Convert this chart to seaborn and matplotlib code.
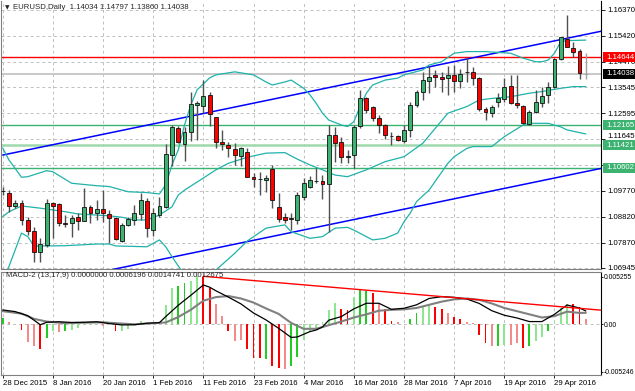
import numpy as np
import pandas as pd
import matplotlib
matplotlib.use("Agg")
import matplotlib.pyplot as plt
import matplotlib.transforms as mtransforms
from matplotlib.patches import Rectangle
import seaborn as sns

sns.set_style("white")
plt.rcParams["font.family"] = ["Liberation Sans", "DejaVu Sans"]

W, H = 635, 391

# --- data: EURUSD daily bars, 28 Dec 2015 .. 6 May 2016 (no bar on 1 Jan) ---
dates = pd.bdate_range("2015-12-28", "2016-05-06").drop(pd.Timestamp("2016-01-01"))

opens = [1.0977, 1.0970, 1.0921, 1.0933, 1.0870, 1.0831, 1.0752, 1.0778, 1.0933, 1.0928,
         1.0858, 1.0858, 1.0882, 1.0866, 1.0916, 1.0894, 1.0909, 1.0892, 1.0878, 1.0794,
         1.0852, 1.0870, 1.0892, 1.0940, 1.0833, 1.0888, 1.0918, 1.1107, 1.1207, 1.1148,
         1.1192, 1.1290, 1.1286, 1.1327, 1.1247, 1.1156, 1.1144, 1.1129, 1.1104, 1.1119,
         1.1028, 1.1019, 1.1016, 1.1055, 1.0918, 1.0882, 1.0876, 1.0870, 1.0955, 1.0992,
         1.1012, 1.1012, 1.1001, 1.1180, 1.1156, 1.1101, 1.1107, 1.1213, 1.1314, 1.1282,
         1.1241, 1.1217, 1.1178, 1.1177, 1.1160, 1.1199, 1.1290, 1.1339, 1.1379, 1.1400,
         1.1393, 1.1388, 1.1400, 1.1379, 1.1411, 1.1409, 1.1388, 1.1275, 1.1262, 1.1300,
         1.1311, 1.1359, 1.1298, 1.1286, 1.1221, 1.1266, 1.1298, 1.1327, 1.1355, 1.1457,
         1.1530, 1.1497, 1.1488, 1.14034]
highs = [1.0990, 1.0979, 1.0943, 1.0943, 1.0882, 1.0845, 1.0803, 1.0946, 1.0937, 1.0933,
         1.0888, 1.0888, 1.0894, 1.0988, 1.0925, 1.0943, 1.0979, 1.0906, 1.0882, 1.0858,
         1.0882, 1.0925, 1.0967, 1.0949, 1.0913, 1.0955, 1.1148, 1.1217, 1.1213, 1.1211,
         1.1339, 1.1306, 1.1381, 1.1339, 1.1247, 1.1199, 1.1156, 1.1150, 1.1138, 1.1132,
         1.1040, 1.1046, 1.1034, 1.1071, 1.0967, 1.0894, 1.0894, 1.0973, 1.1022, 1.1031,
         1.1059, 1.1034, 1.1217, 1.1211, 1.1172, 1.1126, 1.1217, 1.1345, 1.1320, 1.1286,
         1.1253, 1.1221, 1.1192, 1.1180, 1.1217, 1.1302, 1.1345, 1.1412, 1.1432, 1.1418,
         1.1412, 1.1432, 1.1436, 1.1420, 1.1466, 1.1430, 1.1393, 1.1284, 1.1290, 1.1333,
         1.1388, 1.1400, 1.1400, 1.1290, 1.1272, 1.1345, 1.1357, 1.1375, 1.1461, 1.1539,
         1.1619, 1.1521, 1.1493, 1.14797]
lows = [1.0961, 1.0900, 1.0914, 1.0852, 1.0815, 1.0715, 1.0715, 1.0772, 1.0803, 1.0848,
        1.0845, 1.0809, 1.0833, 1.0866, 1.0858, 1.0870, 1.0864, 1.0785, 1.0797, 1.0791,
        1.0848, 1.0852, 1.0870, 1.0809, 1.0811, 1.0882, 1.0913, 1.1067, 1.1150, 1.1087,
        1.1160, 1.1162, 1.1261, 1.1213, 1.1132, 1.1126, 1.1101, 1.1071, 1.1067, 1.1028,
        1.0992, 1.0961, 1.0973, 1.0913, 1.0864, 1.0858, 1.0833, 1.0855, 1.0943, 1.0986,
        1.1004, 1.0946, 1.0827, 1.1083, 1.1077, 1.1077, 1.1059, 1.1205, 1.1260, 1.1233,
        1.1187, 1.1165, 1.1144, 1.1160, 1.1152, 1.1172, 1.1284, 1.1308, 1.1333, 1.1357,
        1.1339, 1.1327, 1.1339, 1.1351, 1.1375, 1.1363, 1.1269, 1.1235, 1.1247, 1.1284,
        1.1302, 1.1294, 1.1278, 1.1221, 1.1217, 1.1262, 1.1284, 1.1296, 1.1351, 1.1454,
        1.1501, 1.1466, 1.1384, 1.13860]
closes = [1.0976, 1.0921, 1.0933, 1.0870, 1.0831, 1.0752, 1.0781, 1.0931, 1.0921, 1.0858,
          1.0857, 1.0876, 1.0866, 1.0918, 1.0897, 1.0909, 1.0894, 1.0876, 1.0799, 1.0852,
          1.0872, 1.0894, 1.0943, 1.0839, 1.0894, 1.0921, 1.1111, 1.1211, 1.1154, 1.1192,
          1.1294, 1.1298, 1.1323, 1.1256, 1.1156, 1.1148, 1.1132, 1.1107, 1.1132, 1.1028,
          1.1019, 1.1018, 1.1022, 1.0943, 1.0872, 1.0870, 1.0875, 1.0961, 1.1004, 1.1016,
          1.1013, 1.1001, 1.1180, 1.1152, 1.1101, 1.1105, 1.1211, 1.1314, 1.1272, 1.1241,
          1.1217, 1.1180, 1.1177, 1.1162, 1.1199, 1.1290, 1.1339, 1.1381, 1.1393, 1.1391,
          1.1384, 1.1400, 1.1379, 1.1403, 1.1410, 1.1388, 1.1274, 1.1266, 1.1284, 1.1314,
          1.1357, 1.1298, 1.1290, 1.1223, 1.1266, 1.1302, 1.1323, 1.1355, 1.1457, 1.1537,
          1.1503, 1.1485, 1.1406, 1.14038]

# Bollinger bands (read at selected bars)
bb_up_idx = [0, 1, 3, 4, 7, 8, 11, 15, 17, 20, 23, 25, 26, 27, 28, 29, 30, 31, 33, 34,
             37, 40, 42, 43, 45, 46, 48, 49, 50, 51, 52, 54, 55, 56, 57, 58, 59, 61, 63, 64,
             66, 67, 68, 70, 72, 74, 77, 81, 83, 85, 86, 87, 88, 89, 90, 93]
bb_up = [1.1133, 1.1089, 1.1026, 1.1028, 1.1050, 1.1046, 1.1004, 1.0995, 1.0992, 1.0973,
         1.0970, 1.0965, 1.0998, 1.1071, 1.1126, 1.1217, 1.1290, 1.1345, 1.1389, 1.1400,
         1.1411, 1.1400, 1.1374, 1.1363, 1.1374, 1.1381, 1.1351, 1.1327, 1.1296, 1.1260,
         1.1235, 1.1217, 1.1211, 1.1229, 1.1284, 1.1333, 1.1363, 1.1381, 1.1388, 1.1400,
         1.1412, 1.1418, 1.1436, 1.1448, 1.1479, 1.1485, 1.1485, 1.1479, 1.1461, 1.1448,
         1.1448, 1.1454, 1.1479, 1.1521, 1.1525, 1.1527]
bb_mid_idx = [0, 1, 3, 6, 10, 12, 17, 19, 21, 23, 25, 27, 28, 29, 32, 34, 36, 39, 42, 45,
              47, 49, 51, 53, 55, 58, 61, 64, 67, 69, 71, 74, 76, 78, 81, 84, 86, 89, 91, 93]
bb_mid = [1.0882, 1.0900, 1.0921, 1.0913, 1.0900, 1.0892, 1.0885, 1.0880, 1.0870, 1.0870,
          1.0888, 1.0918, 1.0961, 1.0979, 1.1023, 1.1053, 1.1077, 1.1099, 1.1114, 1.1116,
          1.1092, 1.1071, 1.1053, 1.1034, 1.1028, 1.1053, 1.1083, 1.1101, 1.1150, 1.1205,
          1.1260, 1.1284, 1.1308, 1.1314, 1.1320, 1.1333, 1.1339, 1.1351, 1.1357, 1.1357]
bb_lo_idx = [0, 1, 3, 4, 5, 7, 10, 15, 17, 18, 23, 25, 26, 27, 28, 29, 30, 31, 32, 33,
             34, 37, 39, 42, 45, 46, 49, 51, 53, 55, 56, 59, 61, 63, 64, 65, 66, 68, 71, 72,
             74, 75, 78, 80, 83, 84, 87, 89, 90, 93]
bb_lo = [1.0655, 1.0700, 1.0822, 1.0809, 1.0775, 1.0775, 1.0776, 1.0782, 1.0782, 1.0775,
         1.0772, 1.0797, 1.0772, 1.0736, 1.0702, 1.0669, 1.0643, 1.0632, 1.0640, 1.0658,
         1.0687, 1.0748, 1.0793, 1.0840, 1.0852, 1.0827, 1.0803, 1.0809, 1.0840, 1.0843,
         1.0833, 1.0797, 1.0803, 1.0822, 1.0863, 1.0895, 1.0937, 1.0979, 1.1077, 1.1101,
         1.1131, 1.1138, 1.1138, 1.1174, 1.1217, 1.1223, 1.1223, 1.1210, 1.1199, 1.1184]

# channel trend lines (bar index, price) and horizontal levels
chan_x = [0, 96]
chan_upper = [1.1107, 1.1562]
chan_lower = [1.0606, 1.1061]
level_red = 1.14644
level_last = 1.14038
levels_green = [1.12165, 1.11421, 1.10602]
price_ticks = [1.16370, 1.15420, 1.14470, 1.13545, 1.12595, 1.11645, 1.10720,
               1.09770, 1.08820, 1.07870, 1.06945]
price_ticklabels = ["1.16370", "1.15420", "1.14470", "1.13545", "1.12595", "1.11645", "",
                    "1.09770", "1.08820", "1.07870", "1.06945"]

# MACD-2 (13,17,9)
hist = [0.00066, 0.00022, 0.00005, -0.00063, -0.00191, -0.00240, -0.00276, -0.00155, -0.00077, -0.00085,
        -0.00070, -0.00063, -0.00044, -0.00011, -0.00005, 0.00005, -0.00017, -0.00002, -0.00074, -0.00070,
        -0.00048, -0.00010, 0.00037, 0.00004, 0.00002, 0.00004, 0.00213, 0.00397, 0.00420, 0.00453,
        0.00475, 0.00530, 0.00520, 0.00397, 0.00220, 0.00088, -0.00077, -0.00188, -0.00170, -0.00276,
        -0.00375, -0.00370, -0.00380, -0.00464, -0.00486, -0.00497, -0.00464, -0.00364, -0.00177, -0.00090,
        -0.00045, 0.00030, 0.00158, 0.00232, 0.00166, 0.00158, 0.00298, 0.00386, 0.00372, 0.00342,
        0.00239, 0.00166, 0.00040, 0.00030, 0.00005, 0.00055, 0.00121, 0.00188, 0.00215, 0.00190,
        0.00170, 0.00120, 0.00080, 0.00060, 0.00030, 0.00010, -0.00118, -0.00210, -0.00240, -0.00236,
        -0.00228, -0.00228, -0.00210, -0.00258, -0.00240, -0.00184, -0.00136, -0.00070, 0.00048, 0.00177,
        0.00221, 0.00221, 0.00195, 0.00062]
hist_kind = ["g", "lr", "lr", "r", "lr", "lr", "r", "g", "lg", "lr",
             "g", "lg", "lg", "lg", "lg", "lg", "lr", "lr", "r", "lg",
             "lg", "lg", "lg", "lr", "lg", "lg", "lg", "lg", "g", "g",
             "lg", "lg", "r", "r", "lr", "lr", "r", "lr", "lr", "r",
             "r", "r", "g", "r", "r", "lr", "g", "g", "lg", "lg",
             "lg", "lg", "lg", "lg", "r", "r", "lg", "g", "g", "r",
             "lr", "r", "r", "lr", "lr", "g", "g", "lg", "lg", "r",
             "r", "lr", "r", "r", "lr", "lr", "r", "r", "lr", "g",
             "lg", "lr", "lr", "r", "g", "lg", "lg", "g", "lg", "lg",
             "lg", "r", "r", "lr"]
macd_idx = [0, 2, 4, 6, 7, 9, 11, 13, 15, 17, 19, 21, 23, 25, 26, 28, 30, 32, 33, 34,
            36, 38, 40, 42, 44, 46, 47, 48, 49, 50, 51, 52, 54, 56, 58, 60, 62, 64, 66, 68,
            70, 72, 74, 76, 78, 80, 82, 84, 86, 88, 90, 92, 93]
macd = [0.00158, 0.00140, 0.00095, -0.00005, 0.00022, 0.00028, 0.00020, 0.00022, 0.00028, 0.00008,
        -0.00007, -0.00005, 0.00012, 0.00018, 0.00085, 0.00210, 0.00320, 0.00434, 0.00410, 0.00370,
        0.00300, 0.00225, 0.00125, 0.00048, -0.00044, -0.00145, -0.00140, -0.00110, -0.00081, -0.00063,
        -0.00030, 0.00045, 0.00085, 0.00170, 0.00232, 0.00232, 0.00165, 0.00177, 0.00215, 0.00285,
        0.00305, 0.00298, 0.00280, 0.00230, 0.00150, 0.00100, 0.00070, 0.00030, 0.00030, 0.00110,
        0.00213, 0.00180, 0.00147]
sig_idx = [0, 3, 5, 7, 10, 13, 16, 18, 21, 24, 26, 28, 30, 32, 34, 36, 38, 40, 42, 44,
           46, 48, 50, 52, 54, 56, 58, 60, 62, 64, 66, 68, 70, 72, 74, 76, 78, 80, 82, 84,
           86, 88, 90, 92, 93]
sig = [0.00145, 0.00118, 0.00060, 0.00030, 0.00012, 0.00018, 0.00022, 0.00012, 0.00000, 0.00012,
       0.00020, 0.00080, 0.00160, 0.00260, 0.00300, 0.00312, 0.00285, 0.00240, 0.00175, 0.00115,
       0.00015, -0.00050, -0.00050, -0.00010, 0.00030, 0.00075, 0.00110, 0.00150, 0.00160, 0.00165,
       0.00180, 0.00215, 0.00250, 0.00275, 0.00285, 0.00270, 0.00230, 0.00180, 0.00145, 0.00110,
       0.00075, 0.00090, 0.00140, 0.00125, 0.00127]
macd_trend_x = [32, 95.6]
macd_trend_y = [0.00530, 0.00155]
macd_ticks = [0.005255, 0.0, -0.005246]
macd_ticklabels = ["0.005255", "0.00", "-0.005246"]

# --- figure ---
o = np.array(opens); h = np.array(highs); l = np.array(lows); c = np.array(closes)
idx = np.arange(len(dates))
XMIN, XMAX = -0.27, 95.42
GRID = dict(color="#c0c0c0", lw=0.7, ls=(0, (3, 3)), zorder=0)
FS = 5.6

fig = plt.figure(figsize=(W / 100, H / 100), dpi=100)
fig.patch.set_facecolor("white")


def px_axes(left, top, right, bottom):
    return fig.add_axes([left / W, 1 - bottom / H, (right - left) / W, (bottom - top) / H])


ax = px_axes(1, 1, 601, 269)
axm = px_axes(1, 272, 601, 375)

# grid
for a in (ax, axm):
    for xi in idx[::8]:
        a.axvline(xi, **GRID)
for p in price_ticks:
    ax.axhline(p, **GRID)
axm.axhline(0, **GRID)

# horizontal levels and channel
ax.axhline(level_last, color="#c8c8c8", lw=1.4, zorder=1)
ax.axhline(level_red, color="#ff0000", lw=1.0, zorder=1)
for k, p in enumerate(levels_green):
    if k == 1:
        ax.axhline(p, color="#9ed9ab", lw=1.8, zorder=1)
    else:
        ax.axhline(p, color="#3cb371", lw=1.0, zorder=1)
ax.plot(chan_x, chan_upper, color="#0000ff", lw=1.1, zorder=2)
ax.plot(chan_x, chan_lower, color="#0000ff", lw=1.1, zorder=2)

# Bollinger bands
for bx, by in ((bb_up_idx, bb_up), (bb_mid_idx, bb_mid), (bb_lo_idx, bb_lo)):
    sns.lineplot(x=bx, y=by, ax=ax, color="#20b2aa", lw=0.9, zorder=2, legend=False)

# candles
bull = c >= o
wick_col = ["#505050"] * len(idx)
wick_col[-1] = "#a0a0a0"
ax.vlines(idx, l, h, colors=wick_col, lw=1.0, zorder=3)
body_lo = np.minimum(o, c)
body_h = np.abs(c - o)
fill = np.where(bull, "#3cb371", "#ff0000")
edge = ["#101010"] * len(idx)
edge[-1] = "#a0a0a0"
ax.bar(idx, body_h, bottom=body_lo, width=0.62, color=fill, edgecolor=edge,
       linewidth=0.6, zorder=4)

ax.set_xlim(XMIN, XMAX)
ax.set_ylim(1.06908, 1.16698)
ax.set_xlabel(""); ax.set_ylabel("")
ax.tick_params(axis="x", bottom=False, labelbottom=False)
ax.yaxis.tick_right()
ax.set_yticks(price_ticks)
ax.set_yticklabels(price_ticklabels)
ax.tick_params(axis="y", right=True, direction="out", length=3, width=0.6, pad=1.5,
               labelsize=FS, colors="black")
# the 1.11645 label sits just above the 1.11421 box, as on the terminal
nudge = mtransforms.ScaledTranslation(0, 2.5 / 72, fig.dpi_scale_trans)
lab = ax.get_yticklabels()[5]
lab.set_transform(lab.get_transform() + nudge)

# level boxes on the price scale
trans = mtransforms.blended_transform_factory(fig.transFigure, ax.transData)
box_h = 10.0 * (1.16698 - 1.06908) / 268
for p, col in ((level_red, "#ff0000"), (level_last, "#000000"),
               (levels_green[0], "#3cb371"), (levels_green[1], "#3cb371"),
               (levels_green[2], "#3cb371")):
    ax.add_patch(Rectangle((603 / W, p - box_h / 2), 32 / W, box_h, transform=trans,
                           facecolor=col, edgecolor="none", clip_on=False, zorder=10))
    ax.text(606 / W, p, f"{p:.5f}", transform=trans, ha="left", va="center",
            color="white", fontsize=FS, clip_on=False, zorder=11)

# MACD panel
hist_colors = {"g": "#22cc22", "lg": "#8ee68e", "r": "#ff0000", "lr": "#f58a8a"}
axm.bar(idx, hist, width=0.3, color=[hist_colors[k] for k in hist_kind],
        linewidth=0, antialiased=False, zorder=2)
sns.lineplot(x=sig_idx, y=sig, ax=axm, color="#808080", lw=1.5, zorder=3, legend=False)
sns.lineplot(x=macd_idx, y=macd, ax=axm, color="#000000", lw=0.9, zorder=4, legend=False)
axm.plot(macd_trend_x, macd_trend_y, color="#ff0000", lw=1.0, zorder=5)

axm.set_xlim(XMIN, XMAX)
axm.set_ylim(-0.0056, 0.005774)
axm.set_xlabel(""); axm.set_ylabel("")
axm.yaxis.tick_right()
axm.set_yticks(macd_ticks)
axm.set_yticklabels(macd_ticklabels)
axm.tick_params(axis="y", right=True, direction="out", length=1.5, width=0.6, pad=0.5,
                labelsize=4.9, colors="black")
axm.set_xticks(idx[::8])
axm.set_xticklabels([f"{d.day} {d.strftime('%b %Y')}" for d in dates[::8]])
axm.tick_params(axis="x", bottom=True, direction="out", length=2, width=0.6, pad=1.5,
                labelsize=FS, colors="black")
for t in axm.get_xticklabels():
    t.set_horizontalalignment("left")

for a in (ax, axm):
    for sp in a.spines.values():
        sp.set_color("#808080")
        sp.set_linewidth(0.8)
    a.spines["right"].set_color("#000000")
ax.spines["top"].set_visible(False)

# header texts
fig.text(4.5 / W, 1 - 7.5 / H, "▼", fontsize=4.2, family="DejaVu Sans", va="center")
fig.text(13 / W, 1 - 7.5 / H, "EURUSD,Daily  1.14034 1.14797 1.13860 1.14038",
         fontsize=FS, va="center")
fig.text(6 / W, 1 - 275.5 / H,
         "MACD-2 (13,17,9) 0.0000000 0.0006196 0.0014741 0.0012675",
         fontsize=FS, va="center")

fig.savefig("out.png", dpi=100, facecolor="white")
